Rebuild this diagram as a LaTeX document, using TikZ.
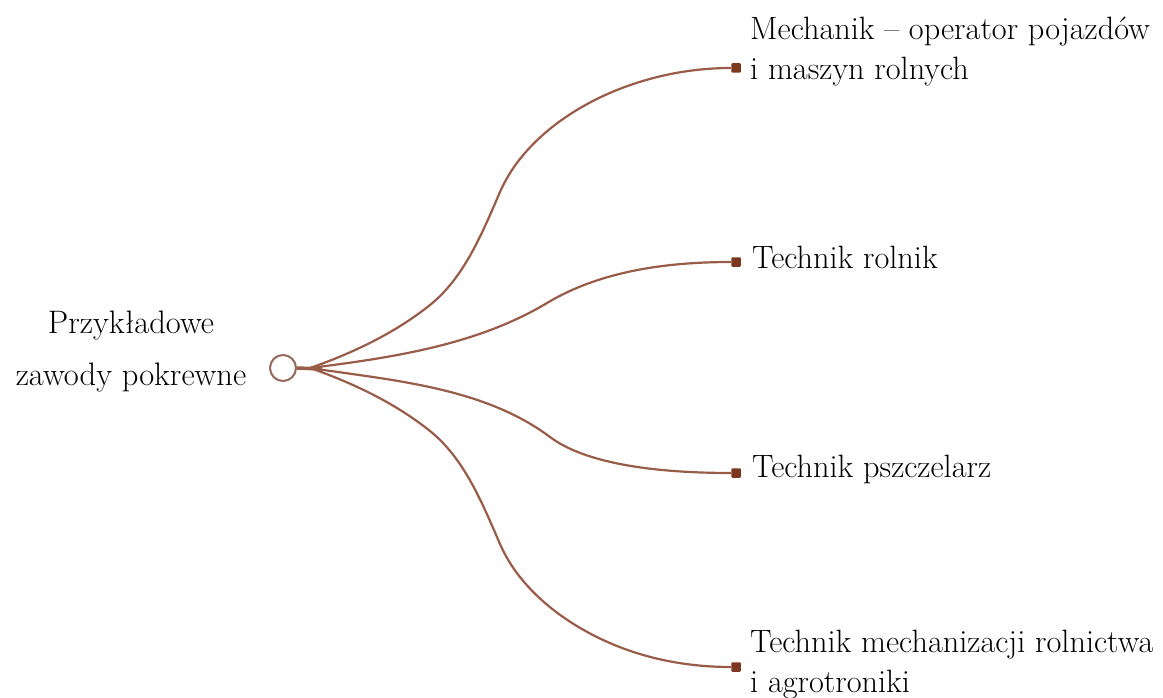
\documentclass[tikz,border=0pt]{standalone}
\usepackage{fontspec}
\usepackage{tikz}
\definecolor{branch}{RGB}{152,92,72}
\definecolor{dot}{RGB}{125,55,30}
\definecolor{ring}{RGB}{150,105,90}
\tikzset{
  lbl/.style={font=\fontsize{32.3}{40}\selectfont, align=left, inner sep=0pt, anchor=base west},
  branchline/.style={draw=branch, line width=2.2pt},
  endmark/.style={fill=dot, minimum size=9.5pt, inner sep=0pt, rounded corners=1pt},
}
\begin{document}
\begin{tikzpicture}[x=1pt,y=-1pt]
\useasboundingbox (0,0) rectangle (1163,698);
% root
\node[circle, draw=ring, line width=2pt, fill=white, minimum size=26pt, inner sep=0pt] (root) at (283,368) {};
\coordinate (hub) at (310,368);
\coordinate (stem) at (322,369);
\draw[branchline, line width=3.5pt] (root.east) -- (stem);
% end markers
\node[endmark] (e1) at (736,68) {};
\node[endmark] (e2) at (736,262) {};
\node[endmark] (e3) at (736,473) {};
\node[endmark] (e4) at (736,667) {};
% branches
\draw[branchline] (hub) .. controls (352.5,353.2) and (394.9,333.1) .. (430,305)
  .. controls (464.4,277.5) and (482.5,232.3) .. (500,192)
  .. controls (520.7,144.3) and (568.7,109.3) .. (617,90)
  .. controls (653.2,75.5) and (692,68) .. (e1.west);
\draw[branchline] (hub) .. controls (391.3,357.8) and (476.7,345.2) .. (547,303)
  .. controls (601,270.6) and (668,262) .. (e2.west);
\draw[branchline] (hub) .. controls (392,380.3) and (483.6,387.2) .. (550,437)
  .. controls (590,467) and (670,473) .. (e3.west);
\draw[branchline] (hub) .. controls (352.5,382.8) and (394.9,402.9) .. (430,431)
  .. controls (464.4,458.5) and (482.5,503.7) .. (500,544)
  .. controls (520.7,591.7) and (568.7,626.7) .. (617,646)
  .. controls (653.2,660.5) and (692,667) .. (e4.west);
% labels
\node[lbl] (t1) at (750,80) {Mechanik – operator pojazdów\\i maszyn rolnych};
\node[lbl] (t2) at (752,268) {Technik rolnik};
\node[lbl] (t3) at (752,477) {Technik pszczelarz};
\node[lbl] (t4) at (750,692) {Technik mechanizacji rolnictwa\\i agrotroniki};
\node[font=\fontsize{32.5}{52}\selectfont, align=center, inner sep=0pt, anchor=base] (rootlabel) at (131,385) {Przykładowe\\zawody pokrewne};
\end{tikzpicture}
\end{document}
